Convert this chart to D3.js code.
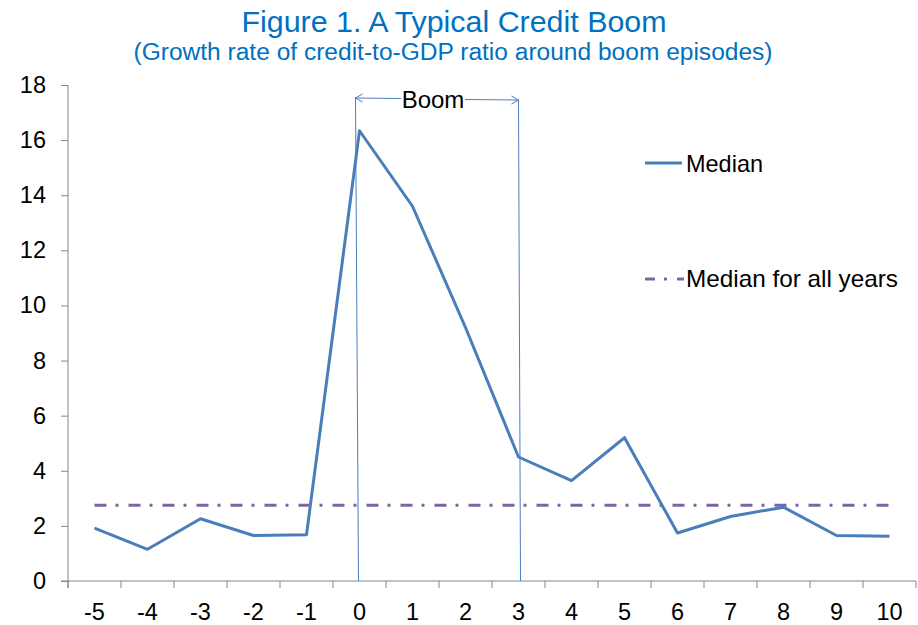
<!DOCTYPE html>
<html><head><meta charset="utf-8">
<script src="https://cdn.jsdelivr.net/npm/d3@7"></script>
<style>
body{margin:0;background:#fff;}
svg{display:block;font-family:"Liberation Sans",Arial,sans-serif;}
</style></head>
<body><svg id="c" width="918" height="625"></svg>
<script>
const categories = [-5,-4,-3,-2,-1,0,1,2,3,4,5,6,7,8,9,10];
const medianValues = [1.92,1.15,2.26,1.65,1.68,16.34,13.6,9.2,4.5,3.64,5.2,1.74,2.34,2.68,1.65,1.62];
const medianAllYears = 2.75;
const yTicks = [0,2,4,6,8,10,12,14,16,18];
const boomStart = 0, boomEnd = 3;
const titleText = "Figure 1. A Typical Credit Boom";
const subtitleText = "(Growth rate of credit-to-GDP ratio around boom episodes)";
const legendLabels = ["Median","Median for all years"];

(function(){
const svg = d3.select("#c");
const mLeft = 68, mRight = 916, mTop = 85, mBottom = 581;
const x = d3.scaleBand().domain(categories).range([mLeft, mRight]);
const xc = v => x(v) + x.bandwidth()/2;
const y = d3.scaleLinear().domain([0,18]).range([mBottom, mTop]);

const blue = "#4A7EBB", purple = "#8064A2", axisCol = "#868686", titleCol = "#0070C0";

svg.append("text").attr("x",454).attr("y",32).attr("text-anchor","middle")
  .attr("fill",titleCol).attr("font-size",30).attr("textLength",425).attr("lengthAdjust","spacingAndGlyphs").text(titleText);
svg.append("text").attr("x",453).attr("y",60).attr("text-anchor","middle")
  .attr("fill",titleCol).attr("font-size",23.5).attr("textLength",639).attr("lengthAdjust","spacingAndGlyphs").text(subtitleText);

// axes
const yAxis = svg.append("g").attr("transform",`translate(${mLeft},0)`)
  .call(d3.axisLeft(y).tickValues(yTicks).tickSize(7).tickSizeOuter(0).tickPadding(15));
yAxis.select(".domain").attr("stroke",axisCol).attr("d",`M0,${mTop}V${mBottom+7}`);
yAxis.selectAll(".tick line").attr("stroke",axisCol);
yAxis.selectAll(".tick text").attr("font-size",23.5).attr("fill","#000").attr("font-family","Liberation Sans, Arial, sans-serif");

const xAxis = svg.append("g").attr("transform",`translate(0,${mBottom})`)
  .call(d3.axisBottom(x).tickSize(0).tickPadding(22));
xAxis.select(".domain").attr("stroke",axisCol).attr("d",`M${mLeft-7},0H${mRight}`);
xAxis.selectAll(".tick line").remove();
xAxis.selectAll(".tick text").attr("font-size",23.5).attr("fill","#000").attr("font-family","Liberation Sans, Arial, sans-serif");
const bounds = categories.map(c => x(c)).concat([mRight]);
svg.append("g").selectAll("line").data(bounds).join("line")
  .attr("x1",d=>d).attr("x2",d=>d).attr("y1",mBottom).attr("y2",mBottom+7)
  .attr("stroke",axisCol);

// median for all years
svg.append("line").attr("x1",xc(categories[0])).attr("x2",xc(categories[categories.length-1]))
  .attr("y1",y(medianAllYears)).attr("y2",y(medianAllYears))
  .attr("stroke",purple).attr("stroke-width",3).attr("stroke-dasharray","12,9,3,10");

// boom annotation
const bx1 = xc(boomStart) - 4, bx2 = xc(boomEnd);
const ann = svg.append("g").attr("stroke",blue).attr("stroke-width",1).attr("fill","none");
ann.append("line").attr("x1",bx1).attr("x2",bx1+3).attr("y1",97).attr("y2",mBottom);
ann.append("line").attr("x1",bx2).attr("x2",bx2+2).attr("y1",100).attr("y2",mBottom);
ann.append("line").attr("x1",bx1).attr("x2",401).attr("y1",98).attr("y2",98.5);
ann.append("line").attr("x1",465).attr("x2",bx2).attr("y1",99.5).attr("y2",100);
ann.append("path").attr("d",`M${bx1+7},${94} L${bx1},${98} L${bx1+7},${102}`);
ann.append("path").attr("d",`M${bx2-7},${96} L${bx2},${100} L${bx2-7},${104}`);
svg.append("text").attr("x",433).attr("y",108).attr("text-anchor","middle")
  .attr("font-size",24).attr("fill","#000").text("Boom");

// median line
svg.append("path").datum(categories.map((c,i)=>[c,medianValues[i]]))
  .attr("fill","none").attr("stroke",blue).attr("stroke-width",3).attr("stroke-linejoin","round")
  .attr("d", d3.line().x(d=>xc(d[0])).y(d=>y(d[1])));

// legend
const lg = svg.append("g");
lg.append("line").attr("x1",645).attr("x2",682).attr("y1",163).attr("y2",163)
  .attr("stroke",blue).attr("stroke-width",3);
lg.append("text").attr("x",686).attr("y",171.5).attr("font-size",24).attr("textLength",77).attr("lengthAdjust","spacingAndGlyphs").text(legendLabels[0]);
lg.append("line").attr("x1",645).attr("x2",684).attr("y1",279).attr("y2",279)
  .attr("stroke",purple).attr("stroke-width",3).attr("stroke-dasharray","10,9,3,10");
lg.append("text").attr("x",686).attr("y",287).attr("font-size",24).attr("textLength",212).attr("lengthAdjust","spacingAndGlyphs").text(legendLabels[1]);
})();
</script></body></html>
